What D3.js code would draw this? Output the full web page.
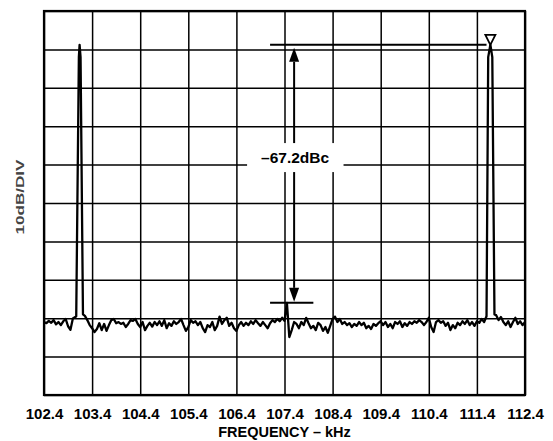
<!DOCTYPE html>
<html>
<head>
<meta charset="utf-8">
<script src="https://cdn.jsdelivr.net/npm/d3@7"></script>
<style>
body { margin: 0; background: #fff; }
svg text { font-family: Arial, "Liberation Sans", Helvetica, sans-serif; font-weight: bold; }
</style>
</head>
<body>
<script>
// frequency axis (kHz) and level axis (dB, 10dB/DIV)
var freqTicks = [102.4, 103.4, 104.4, 105.4, 106.4, 107.4, 108.4, 109.4, 110.4, 111.4, 112.4];
var dbTicks = [0, -10, -20, -30, -40, -50, -60, -70, -80, -90, -100];

// noise floor, one sample every 0.05 kHz from 102.4 kHz
var noiseStart = 102.4, noiseStep = 0.05;
var noiseDb = [
  -81.0, -81.3, -80.7, -81.2, -80.5, -81.6, -81.0, -81.8, -80.8, -80.2,
  -82.1, -83.0, -80.1, -79.7, -79.5, -79.5, -79.5, -79.4, -80.5, -81.8,
  -82.6, -83.6, -82.8, -81.3, -83.1, -81.5, -83.3, -81.8, -80.5, -80.2,
  -81.3, -81.0, -81.5, -81.2, -82.3, -81.5, -80.5, -80.7, -80.2, -81.5,
  -82.3, -81.0, -83.1, -82.0, -81.2, -82.2, -81.0, -81.8, -80.8, -82.0,
  -80.5, -82.6, -81.3, -82.0, -80.8, -81.5, -81.0, -80.2, -81.8, -83.3,
  -82.3, -80.5, -81.2, -80.8, -81.8, -81.0, -82.6, -83.6, -81.8, -82.3,
  -81.0, -83.1, -82.0, -79.6, -81.5, -80.5, -79.9, -82.0, -81.2, -82.6,
  -83.3, -81.8, -81.0, -82.0, -81.2, -81.8, -80.8, -81.5, -80.5, -81.3,
  -82.0, -81.0, -81.8, -82.6, -81.3, -80.5, -81.0, -80.2, -80.8, -79.9,
  -80.7, -76.0, -84.9, -83.1, -81.0, -81.5, -82.6, -81.0, -81.8, -79.9,
  -81.3, -82.6, -82.0, -83.1, -81.2, -81.8, -83.3, -82.3, -83.8, -82.0,
  -80.2, -79.6, -81.0, -80.2, -81.5, -81.0, -81.8, -81.3, -82.3, -81.5,
  -82.0, -81.0, -81.8, -81.2, -82.6, -82.0, -82.8, -81.5, -82.0, -81.3,
  -80.8, -81.8, -81.0, -82.3, -81.5, -82.6, -81.0, -81.5, -80.8, -82.3,
  -81.3, -82.0, -81.0, -81.5, -80.8, -81.2, -80.5, -81.0, -81.8, -81.0,
  -79.9, -82.3, -83.6, -81.0, -80.5, -81.2, -80.8, -82.0, -81.2, -83.1,
  -81.8, -82.6, -81.2, -81.8, -80.8, -81.5, -80.5, -81.8, -81.0, -82.0,
  -80.8, -81.2, -80.2, -81.0, -79.9, -79.5, -79.5, -79.5, -79.2, -80.5,
  -79.7, -81.0, -81.8, -80.8, -82.3, -81.0, -79.9, -81.5, -80.8, -81.8,
  -81.0
];

// the two tones
var tone1Freq = [103.07, 103.125, 103.14, 103.16, 103.21];
var tone1Db   = [-79.5, -12.0, -8.8, -12.0, -79.0];
var tone2Freq = [111.60, 111.635, 111.68, 111.72, 111.765];
var tone2Db   = [-79.5, -12.0, -8.8, -12.0, -79.0];

// marker / delta annotation
var refLevel = -8.8, spurLevel = -76.0;
var markerFreq = 111.68;
var refLineFrom = 107.1, refLineTo = 111.6;
var spurLineFrom = 107.1, spurLineTo = 108.0;
var arrowFreq = 107.6, labelLevel = -38.3;
var deltaLabel = "\u201367.2dBc";

var width = 553, height = 441;
var x0 = 44, x1 = 525, y0 = 11, y1 = 395;

var x = d3.scaleLinear().domain([102.4, 112.4]).range([x0, x1]);
var y = d3.scaleLinear().domain([0, -100]).range([y0, y1]);

// build the trace: noise samples, with the tone shapes put in their place
var trace = noiseDb.map(function(d, i){ return [noiseStart + i * noiseStep, d]; });
[[tone1Freq, tone1Db], [tone2Freq, tone2Db]].forEach(function(t){
    var lo = t[0][0], hi = t[0][t[0].length - 1];
    trace = trace.filter(function(p){ return p[0] < lo || p[0] > hi; });
    t[0].forEach(function(f, k){ trace.push([f, t[1][k]]); });
});
trace.sort(function(a, b){ return a[0] - b[0]; });

var svg = d3.select("body").append("svg")
    .attr("width", width)
    .attr("height", height);

// vertical grid + frequency labels
svg.append("g")
    .attr("transform", "translate(0," + y1 + ")")
    .call(d3.axisBottom(x).tickValues(freqTicks).tickSize(-(y1 - y0)).tickPadding(13)
        .tickFormat(d3.format(".1f")))
    .call(function(g){ g.select(".domain").remove(); })
    .call(function(g){ g.selectAll("line").attr("stroke", "#000").attr("stroke-width", 1.5); })
    .call(function(g){ g.selectAll("text").attr("fill", "#000").style("font-size", "15px"); });

// horizontal grid
svg.append("g")
    .attr("transform", "translate(" + x0 + ",0)")
    .call(d3.axisLeft(y).tickValues(dbTicks).tickSize(-(x1 - x0)).tickFormat(""))
    .call(function(g){ g.select(".domain").remove(); })
    .call(function(g){ g.selectAll("line").attr("stroke", "#000").attr("stroke-width", 1.5); });

svg.append("rect")
    .attr("x", x0).attr("y", y0)
    .attr("width", x1 - x0).attr("height", y1 - y0)
    .attr("fill", "none").attr("stroke", "#000").attr("stroke-width", 2.2);

// spectrum trace
svg.append("path")
    .datum(trace)
    .attr("fill", "none")
    .attr("stroke", "#000")
    .attr("stroke-width", 2.3)
    .attr("stroke-linejoin", "round")
    .attr("d", d3.line().x(function(d){ return x(d[0]); }).y(function(d){ return y(d[1]); }));

// reference and spur level lines
svg.append("line")
    .attr("x1", x(refLineFrom)).attr("x2", x(refLineTo))
    .attr("y1", y(refLevel)).attr("y2", y(refLevel))
    .attr("stroke", "#000").attr("stroke-width", 2);
svg.append("line")
    .attr("x1", x(spurLineFrom)).attr("x2", x(spurLineTo))
    .attr("y1", y(spurLevel)).attr("y2", y(spurLevel))
    .attr("stroke", "#000").attr("stroke-width", 2);

// double arrow
var ax = x(arrowFreq), topTip = y(refLevel) + 3, botTip = y(spurLevel) - 1;
var headLen = 14, headW = 5;
svg.append("line")
    .attr("x1", ax).attr("x2", ax)
    .attr("y1", topTip + headLen).attr("y2", botTip - headLen)
    .attr("stroke", "#000").attr("stroke-width", 2);
svg.append("path")
    .attr("d", "M" + ax + "," + topTip + "L" + (ax - headW) + "," + (topTip + headLen) + "L" + (ax + headW) + "," + (topTip + headLen) + "Z")
    .attr("fill", "#000");
svg.append("path")
    .attr("d", "M" + ax + "," + botTip + "L" + (ax - headW) + "," + (botTip - headLen) + "L" + (ax + headW) + "," + (botTip - headLen) + "Z")
    .attr("fill", "#000");

// marker triangle on the tone
var mx = x(markerFreq), my = y(refLevel);
svg.append("path")
    .attr("d", "M" + mx + "," + my + "L" + (mx - 5) + "," + (my - 10) + "L" + (mx + 5) + "," + (my - 10) + "Z")
    .attr("fill", "#fff").attr("stroke", "#000").attr("stroke-width", 1.8);

// delta label with white box
var box = svg.append("rect").attr("fill", "#fff");
var lbl = svg.append("text")
    .attr("x", ax + 1).attr("y", y(labelLevel) + 5)
    .attr("text-anchor", "middle")
    .style("font-size", "15.5px")
    .text(deltaLabel);
var bb = lbl.node().getBBox();
box.attr("x", bb.x - 14).attr("y", bb.y - 6)
   .attr("width", bb.width + 28).attr("height", bb.height + 12);

// axis titles
svg.append("text")
    .attr("x", (x0 + x1) / 2).attr("y", 436.5)
    .attr("text-anchor", "middle")
    .style("font-size", "14.5px")
    .text("FREQUENCY \u2013 kHz");

svg.append("text")
    .attr("transform", "translate(24,197) rotate(-90)")
    .attr("text-anchor", "middle")
    .attr("fill", "#444")
    .attr("textLength", 75)
    .attr("lengthAdjust", "spacingAndGlyphs")
    .style("font-size", "11.5px")
    .text("10dB/DIV");
</script>
</body>
</html>
